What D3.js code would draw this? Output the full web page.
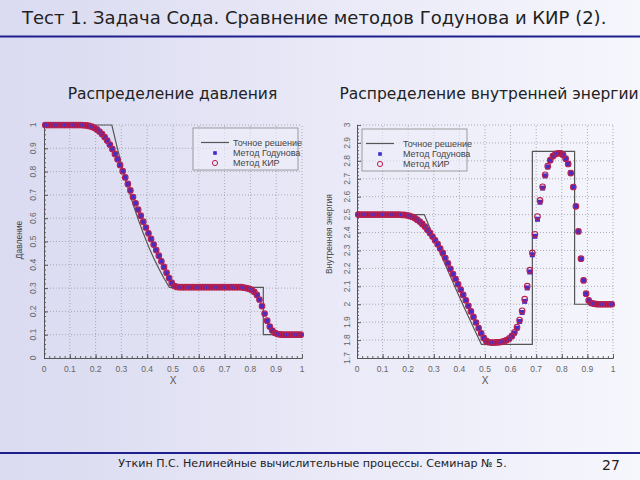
<!DOCTYPE html>
<html>
<head>
<meta charset="utf-8">
<script src="https://cdn.jsdelivr.net/npm/d3@7"></script>
<style>
body { margin: 0; }
svg { display: block; }
</style>
</head>
<body>
<div id="slide"></div>
<script>
var width = 640,
    height = 480;

// cell centres of the 100-cell grid
var cellX = [0.005,0.015,0.025,0.035,0.045,0.055,0.065,0.075,0.085,0.095,
             0.105,0.115,0.125,0.135,0.145,0.155,0.165,0.175,0.185,0.195,
             0.205,0.215,0.225,0.235,0.245,0.255,0.265,0.275,0.285,0.295,
             0.305,0.315,0.325,0.335,0.345,0.355,0.365,0.375,0.385,0.395,
             0.405,0.415,0.425,0.435,0.445,0.455,0.465,0.475,0.485,0.495,
             0.505,0.515,0.525,0.535,0.545,0.555,0.565,0.575,0.585,0.595,
             0.605,0.615,0.625,0.635,0.645,0.655,0.665,0.675,0.685,0.695,
             0.705,0.715,0.725,0.735,0.745,0.755,0.765,0.775,0.785,0.795,
             0.805,0.815,0.825,0.835,0.845,0.855,0.865,0.875,0.885,0.895,
             0.905,0.915,0.925,0.935,0.945,0.955,0.965,0.975,0.985,0.995];

// pressure
var pressGodunov = [1,1,1,1,1,1,1,1,1,1,
                    1,1,1,1,1,0.999,0.998,0.996,0.993,0.988,
                    0.981,0.972,0.961,0.948,0.933,0.916,0.897,0.876,0.853,0.828,
                    0.802,0.775,0.747,0.719,0.691,0.664,0.637,0.611,0.585,0.560,
                    0.535,0.511,0.487,0.463,0.439,0.415,0.391,0.366,0.343,0.322,
                    0.309,0.305,0.304,0.304,0.304,0.304,0.304,0.304,0.304,0.304,
                    0.304,0.304,0.304,0.304,0.304,0.304,0.304,0.304,0.304,0.304,
                    0.304,0.304,0.304,0.304,0.304,0.304,0.304,0.302,0.300,0.297,
                    0.292,0.284,0.270,0.250,0.222,0.190,0.160,0.135,0.118,0.108,
                    0.103,0.101,0.100,0.100,0.100,0.100,0.100,0.100,0.100,0.100];
var pressKIR = [1,1,1,1,1,1,1,1,1,1,
                1,1,1,1,1,0.999,0.998,0.996,0.993,0.988,
                0.981,0.972,0.961,0.948,0.933,0.916,0.897,0.876,0.853,0.828,
                0.802,0.775,0.747,0.719,0.691,0.664,0.637,0.611,0.585,0.560,
                0.535,0.511,0.487,0.463,0.439,0.415,0.391,0.366,0.343,0.322,
                0.309,0.305,0.304,0.304,0.304,0.304,0.304,0.304,0.304,0.304,
                0.304,0.304,0.304,0.304,0.304,0.304,0.304,0.304,0.304,0.304,
                0.304,0.304,0.304,0.304,0.304,0.304,0.304,0.302,0.300,0.297,
                0.292,0.284,0.271,0.251,0.223,0.191,0.160,0.135,0.118,0.108,
                0.103,0.101,0.100,0.100,0.100,0.100,0.100,0.100,0.100,0.100];
var pressExactX = [0, 0.263, 0.275, 0.285, 0.295, 0.305, 0.325, 0.345, 0.365, 0.385,
                   0.405, 0.425, 0.445, 0.465, 0.486, 0.850, 0.850, 1];
var pressExactY = [1, 1, 0.944, 0.898, 0.854, 0.812, 0.733, 0.661, 0.595, 0.535,
                   0.479, 0.429, 0.384, 0.342, 0.303, 0.303, 0.100, 0.100];

// internal energy
var energyGodunov = [2.5,2.5,2.5,2.5,2.5,2.5,2.5,2.5,2.5,2.5,
                     2.5,2.5,2.5,2.5,2.5,2.5,2.5,2.499,2.498,2.496,
                     2.493,2.488,2.481,2.472,2.461,2.448,2.433,2.416,2.398,2.378,
                     2.357,2.335,2.311,2.286,2.258,2.228,2.198,2.168,2.140,2.111,
                     2.082,2.052,2.022,1.991,1.960,1.929,1.898,1.867,1.838,1.812,
                     1.795,1.789,1.787,1.787,1.788,1.789,1.791,1.794,1.799,1.807,
                     1.820,1.839,1.866,1.904,1.954,2.016,2.091,2.180,2.276,2.379,
                     2.474,2.569,2.648,2.716,2.766,2.802,2.825,2.837,2.842,2.842,
                     2.833,2.812,2.783,2.732,2.654,2.546,2.406,2.254,2.133,2.059,
                     2.021,2.007,2.003,2.001,2.000,2.000,2.000,2.000,2.000,2.000];
var energyKIR = [2.5,2.5,2.5,2.5,2.5,2.5,2.5,2.5,2.5,2.5,
                 2.5,2.5,2.5,2.5,2.5,2.5,2.5,2.499,2.498,2.496,
                 2.493,2.488,2.481,2.472,2.461,2.448,2.433,2.416,2.398,2.378,
                 2.357,2.335,2.311,2.286,2.258,2.228,2.198,2.168,2.140,2.111,
                 2.082,2.052,2.022,1.991,1.960,1.929,1.898,1.867,1.838,1.812,
                 1.795,1.788,1.786,1.786,1.787,1.788,1.790,1.794,1.800,1.809,
                 1.823,1.843,1.872,1.912,1.963,2.028,2.101,2.190,2.286,2.390,
                 2.489,2.579,2.655,2.722,2.770,2.804,2.826,2.838,2.842,2.842,
                 2.833,2.812,2.783,2.732,2.654,2.546,2.406,2.254,2.133,2.059,
                 2.021,2.007,2.003,2.001,2.000,2.000,2.000,2.000,2.000,2.000];
var energyExactX = [0, 0.263, 0.285, 0.305, 0.325, 0.345, 0.365, 0.385, 0.405,
                    0.425, 0.445, 0.465, 0.486, 0.685, 0.685, 0.850, 0.850, 1];
var energyExactY = [2.5, 2.5, 2.424, 2.355, 2.287, 2.220, 2.154, 2.089, 2.025,
                    1.962, 1.901, 1.840, 1.776, 1.776, 2.853, 2.853, 2.0, 2.0];

var xTicks = [0, 0.1, 0.2, 0.3, 0.4, 0.5, 0.6, 0.7, 0.8, 0.9, 1];
var pressTicks = [0, 0.1, 0.2, 0.3, 0.4, 0.5, 0.6, 0.7, 0.8, 0.9, 1];
var energyTicks = [1.7, 1.8, 1.9, 2, 2.1, 2.2, 2.3, 2.4, 2.5, 2.6, 2.7, 2.8, 2.9, 3];

var legendNames = ["Точное решение", "Метод Годунова", "Метод КИР"];

var svg = d3.select("#slide").append("svg")
    .attr("width", width)
    .attr("height", height)
    .style("font-family", "'DejaVu Sans', Verdana, sans-serif");

var defs = svg.append("defs");
var bg = defs.append("linearGradient").attr("id", "bg")
    .attr("x1", 0).attr("y1", 0).attr("x2", 1).attr("y2", 0);
bg.append("stop").attr("offset", 0).attr("stop-color", "#dadaf1");
bg.append("stop").attr("offset", 0.55).attr("stop-color", "#eaeaf8");
bg.append("stop").attr("offset", 1).attr("stop-color", "#f6f6fd");

svg.append("rect")
    .attr("width", width)
    .attr("height", height)
    .attr("fill", "url(#bg)");

// header & footer
svg.append("text")
    .attr("x", 22).attr("y", 23.5)
    .attr("font-size", 18)
    .attr("fill", "#222")
    .text("Тест 1. Задача Сода. Сравнение методов Годунова и КИР (2).");
svg.append("line")
    .attr("x1", 0).attr("x2", width).attr("y1", 36.5).attr("y2", 36.5)
    .attr("stroke", "#1e1e8c").attr("stroke-width", 2);
svg.append("line")
    .attr("x1", 0).attr("x2", width).attr("y1", 453).attr("y2", 453)
    .attr("stroke", "#1e1e8c").attr("stroke-width", 2);
svg.append("text")
    .attr("x", 312.5).attr("y", 466.5)
    .attr("text-anchor", "middle")
    .attr("font-size", 11.1)
    .attr("fill", "#222")
    .text("Уткин П.С. Нелинейные вычислительные процессы. Семинар № 5.");
svg.append("text")
    .attr("x", 611).attr("y", 470)
    .attr("text-anchor", "middle")
    .attr("font-size", 14)
    .attr("fill", "#222")
    .text("27");

function drawPanel(opt) {
    var x = d3.scaleLinear().domain([0, 1]).range(opt.xRange);
    var y = d3.scaleLinear().domain(opt.yDomain).range([358, 125]);
    var g = svg.append("g").style("font-family", "'Liberation Sans', Arial, sans-serif");

    svg.append("text")
        .attr("x", opt.titleX).attr("y", 98.5)
        .attr("text-anchor", "middle")
        .attr("font-size", 15.5)
        .attr("fill", "#222")
        .text(opt.title);

    // dotted grid
    g.selectAll(".vgrid")
        .data(xTicks.slice(1))
        .enter().append("line")
        .attr("x1", x).attr("x2", x)
        .attr("y1", y.range()[0]).attr("y2", y.range()[1])
        .attr("stroke", "#9a9aa8").attr("stroke-width", 0.8)
        .attr("stroke-dasharray", "1,2");
    g.selectAll(".hgrid")
        .data(opt.yTicks.slice(1))
        .enter().append("line")
        .attr("y1", y).attr("y2", y)
        .attr("x1", x.range()[0]).attr("x2", x.range()[1])
        .attr("stroke", "#9a9aa8").attr("stroke-width", 0.8)
        .attr("stroke-dasharray", "1,2");

    // axes with minor ticks
    var xMinor = d3.range(0, 1.0001, 0.02);
    var yStep = (opt.yDomain[1] - opt.yDomain[0]) / ((opt.yTicks.length - 1) * 5);
    var yMinor = d3.range(opt.yDomain[0], opt.yDomain[1] + 1e-6, yStep);
    g.append("g").attr("transform", "translate(0," + y.range()[0] + ")")
        .call(d3.axisBottom(x).tickValues(xMinor).tickSizeInner(-2).tickSizeOuter(0).tickFormat(""));
    g.append("g").attr("transform", "translate(0," + y.range()[0] + ")")
        .call(d3.axisBottom(x).tickValues(xTicks).tickSizeInner(-4).tickSizeOuter(0).tickFormat(""));
    g.append("g").attr("transform", "translate(" + x.range()[0] + ",0)")
        .call(d3.axisLeft(y).tickValues(yMinor).tickSizeInner(-2).tickSizeOuter(0).tickFormat(""));
    g.append("g").attr("transform", "translate(" + x.range()[0] + ",0)")
        .call(d3.axisLeft(y).tickValues(opt.yTicks).tickSizeInner(-4).tickSizeOuter(0).tickFormat(""));
    g.selectAll(".domain, .tick line").attr("stroke", "#555").attr("stroke-width", 0.9);

    // tick labels
    g.selectAll(".xlab")
        .data(xTicks)
        .enter().append("text")
        .attr("x", x).attr("y", 372)
        .attr("text-anchor", "middle")
        .attr("font-size", 8.5).attr("fill", "#666")
        .text(function(d) { return String(d); });
    g.selectAll(".ylab")
        .data(opt.yTicks)
        .enter().append("text")
        .attr("transform", function(d) {
            return "translate(" + (opt.yLabX + 3) + "," + y(d) + ") rotate(-90)";
        })
        .attr("text-anchor", "middle")
        .attr("font-size", 8.5).attr("fill", "#666")
        .text(function(d) { return String(d); });

    g.append("text")
        .attr("x", (x.range()[0] + x.range()[1]) / 2).attr("y", 384)
        .attr("text-anchor", "middle")
        .attr("font-size", 10).attr("fill", "#555")
        .text("X");
    g.append("text")
        .attr("transform", "translate(" + opt.yTitleX + "," + opt.yTitleY + ") rotate(-90)")
        .attr("text-anchor", "middle")
        .attr("font-size", 8.5).attr("fill", "#444")
        .text(opt.yTitle);

    // exact solution
    var line = d3.line()
        .x(function(d, i) { return x(opt.exactX[i]); })
        .y(function(d) { return y(d); });
    g.append("path")
        .datum(opt.exactY)
        .attr("d", line)
        .attr("fill", "none")
        .attr("stroke", "#555")
        .attr("stroke-width", 1.2);

    // Godunov: filled squares
    g.selectAll(".god")
        .data(opt.god)
        .enter().append("rect")
        .attr("x", function(d, i) { return x(cellX[i]) - 2.5; })
        .attr("y", function(d) { return y(d) - 2.5; })
        .attr("width", 5).attr("height", 5)
        .attr("fill", "#4a2cc4");
    // KIR: open circles
    g.selectAll(".kir")
        .data(opt.kir)
        .enter().append("circle")
        .attr("cx", function(d, i) { return x(cellX[i]); })
        .attr("cy", function(d) { return y(d); })
        .attr("r", 2.8)
        .attr("fill", "none")
        .attr("stroke", "#b8204e")
        .attr("stroke-width", 1.1);

    // legend
    var lg = g.append("g").attr("transform", "translate(" + opt.legend[0] + "," + opt.legend[1] + ")");
    lg.append("rect")
        .attr("width", opt.legend[2]).attr("height", 42)
        .attr("fill", "#eeeefa").attr("fill-opacity", 0.6)
        .attr("stroke", "#888").attr("stroke-width", 0.8);
    var lx = opt.legendSym;
    lg.append("line")
        .attr("x1", lx - 14).attr("x2", lx + 14).attr("y1", 14.5).attr("y2", 14.5)
        .attr("stroke", "#555").attr("stroke-width", 1.2);
    lg.append("rect")
        .attr("x", lx - 1.8).attr("y", 25 - 1.8).attr("width", 3.6).attr("height", 3.6)
        .attr("fill", "#3b2cd0");
    lg.append("circle")
        .attr("cx", lx).attr("cy", 35).attr("r", 2.6)
        .attr("fill", "none").attr("stroke", "#b8204e").attr("stroke-width", 1);
    lg.selectAll(".ltext")
        .data(legendNames)
        .enter().append("text")
        .attr("x", opt.legendText)
        .attr("y", function(d, i) { return 17.8 + i * 10.2; })
        .attr("font-size", 9).attr("fill", "#444")
        .text(function(d) { return d; });
}

drawPanel({
    title: "Распределение давления",
    titleX: 172.5,
    xRange: [44, 302],
    yDomain: [0, 1],
    yTicks: pressTicks,
    yLabX: 33,
    yTitle: "Давление",
    yTitleX: 22, yTitleY: 240,
    exactX: pressExactX, exactY: pressExactY,
    god: pressGodunov, kir: pressKIR,
    legend: [193, 128, 105],
    legendSym: 22,
    legendText: 40
});

drawPanel({
    title: "Распределение внутренней энергии",
    titleX: 489,
    xRange: [357, 613],
    yDomain: [1.7, 3],
    yTicks: energyTicks,
    yLabX: 346.5,
    yTitle: "Внутренняя энергия",
    yTitleX: 332, yTitleY: 234,
    exactX: energyExactX, exactY: energyExactY,
    god: energyGodunov, kir: energyKIR,
    legend: [362, 129, 105],
    legendSym: 18,
    legendText: 41
});
</script>
</body>
</html>
